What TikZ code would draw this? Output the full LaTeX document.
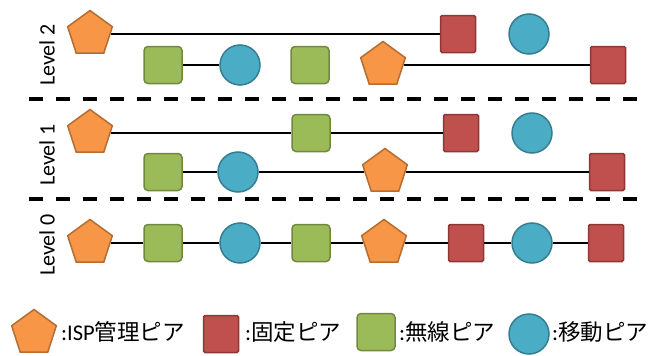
\documentclass[tikz,border=0pt]{standalone}
\usepackage{fontspec}
\setmainfont{Carlito}
\newfontfamily\jpfont{Noto Sans CJK JP}
\usetikzlibrary{shapes.geometric}

\definecolor{ispfill}{HTML}{F79646}\definecolor{ispdraw}{HTML}{B66D31}
\definecolor{fixfill}{HTML}{C0504D}\definecolor{fixdraw}{HTML}{8C3836}
\definecolor{wlfill}{HTML}{9BBB59}\definecolor{wldraw}{HTML}{71893F}
\definecolor{mobfill}{HTML}{4BACC6}\definecolor{mobdraw}{HTML}{357D91}

\tikzset{
  isp/.style={regular polygon, regular polygon sides=5, minimum size=47pt,
    inner sep=0pt, fill=ispfill, draw=ispdraw, line width=1.5pt},
  fixed/.style={rectangle, minimum width=35pt, minimum height=37pt,
    inner sep=0pt, rounded corners=1.5pt, fill=fixfill, draw=fixdraw, line width=1.5pt},
  wireless/.style={rectangle, minimum width=38pt, minimum height=37pt,
    inner sep=0pt, rounded corners=4pt, fill=wlfill, draw=wldraw, line width=1.5pt},
  mobile/.style={circle, minimum size=40pt, inner sep=0pt,
    fill=mobfill, draw=mobdraw, line width=1.5pt},
  link/.style={line width=1.8pt, black},
  levelsep/.style={line width=3.5pt, dash pattern=on 14pt off 13pt},
  lvl/.style={rotate=90, inner sep=0pt, font=\fontsize{22}{22}\selectfont},
  legend/.style={anchor=west, inner sep=0pt, font=\fontsize{22.5}{26}\selectfont},
}

\begin{document}
\begin{tikzpicture}[x=1pt,y=-1pt]
\useasboundingbox (0,0) rectangle (662,356);

% ---- Level 2 ----
\node[lvl] (lv2) at (47,55) {Level 2};
\node[isp]      (a1) at (90,34)  {};
\node[fixed]    (a2) at (458,34) {};
\node[mobile]   (a3) at (529,34) {};
\node[wireless] (a4) at (163,65) {};
\node[mobile]   (a5) at (240,65) {};
\node[wireless] (a6) at (310,65) {};
\node[isp]      (a7) at (383,65) {};
\node[fixed]    (a8) at (608,65) {};
\draw[link] (a1) -- (a2);
\draw[link] (a4) -- (a5);
\draw[link] (a7) -- (a8);

% separator between level 2 and level 1
\coordinate (s1l) at (29,99);
\coordinate (s1r) at (645,99);
\draw[levelsep] (s1l) -- (s1r);

% ---- Level 1 ----
\node[lvl] (lv1) at (47,155) {Level 1};
\node[isp]      (b1) at (90,133)  {};
\node[wireless] (b2) at (311,133) {};
\node[fixed]    (b3) at (461,133) {};
\node[mobile]   (b4) at (532,133) {};
\node[wireless] (b5) at (163,172) {};
\node[mobile]   (b6) at (238,172) {};
\node[isp]      (b7) at (385,172) {};
\node[fixed]    (b8) at (607,172) {};
\draw[link] (b1) -- (b2);
\draw[link] (b2) -- (b3);
\draw[link] (b5) -- (b6);
\draw[link] (b6) -- (b7);
\draw[link] (b7) -- (b8);

% separator between level 1 and level 0
\coordinate (s2l) at (29,199);
\coordinate (s2r) at (645,199);
\draw[levelsep] (s2l) -- (s2r);

% ---- Level 0 ----
\node[lvl] (lv0) at (47,245) {Level 0};
\node[isp]      (c1) at (90,243)  {};
\node[wireless] (c2) at (163,243) {};
\node[mobile]   (c3) at (240,243) {};
\node[wireless] (c4) at (311,243) {};
\node[isp]      (c5) at (384,243) {};
\node[fixed]    (c6) at (466,243) {};
\node[mobile]   (c7) at (532,243) {};
\node[fixed]    (c8) at (606,243) {};
\draw[link] (c1) -- (c2);
\draw[link] (c2) -- (c3);
\draw[link] (c3) -- (c4);
\draw[link] (c4) -- (c5);
\draw[link] (c5) -- (c6);
\draw[link] (c6) -- (c7);
\draw[link] (c7) -- (c8);

% ---- legend ----
\node[isp]      (k1) at (34,333)  {};
\node[legend]   (t1) at (61,332)  {:ISP{\jpfont 管理ピア}};
\node[fixed]    (k2) at (221,334) {};
\node[legend]   (t2) at (245,332) {:{\jpfont 固定ピア}};
\node[wireless] (k3) at (376,332) {};
\node[legend]   (t3) at (399,332) {:{\jpfont 無線ピア}};
\node[mobile]   (k4) at (529,334) {};
\node[legend]   (t4) at (552,332) {:{\jpfont 移動ピア}};
\end{tikzpicture}
\end{document}
